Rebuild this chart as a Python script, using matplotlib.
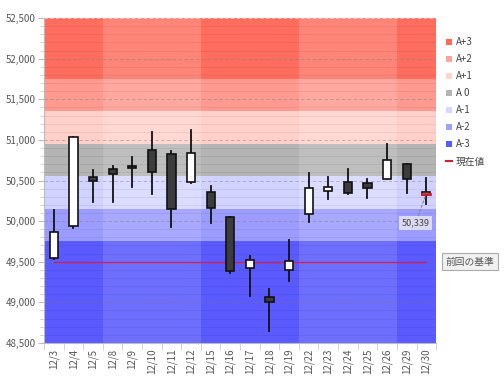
import numpy as np
import matplotlib
matplotlib.use('Agg')
import matplotlib.pyplot as plt
from matplotlib.patches import Rectangle, Patch
from matplotlib.lines import Line2D
from matplotlib.ticker import MultipleLocator, FuncFormatter

plt.rcParams['font.family'] = ['Noto Sans CJK JP', 'DejaVu Sans']

# data
dates = ['12/3', '12/4', '12/5', '12/8', '12/9', '12/10', '12/11', '12/12',
         '12/15', '12/16', '12/17', '12/18', '12/19', '12/22', '12/23',
         '12/24', '12/25', '12/26', '12/29', '12/30']
opens = [49550, 49940, 50540, 50645, 50680, 50875, 50825, 50480, 50360, 50055,
         49420, 49060, 49395, 50085, 50370, 50480, 50465, 50520, 50700, 50320]
highs = [50140, 51030, 50630, 50680, 50790, 51100, 50865, 51120, 50430, 50055,
         49570, 49165, 49770, 50590, 50540, 50640, 50515, 50945, 50700, 50530]
lows = [49530, 49920, 50230, 50230, 50420, 50330, 49930, 50465, 49975, 49360,
        49080, 48650, 49265, 49990, 50270, 50330, 50285, 50520, 50350, 50210]
closes = [49870, 51030, 50490, 50575, 50660, 50600, 50145, 50840, 50165, 49380,
          49520, 49010, 49515, 50410, 50415, 50340, 50405, 50750, 50520, 50360]
current = 50339
base_line = 49500

band_names = ['A+3', 'A+2', 'A+1', 'A 0', 'A-1', 'A-2', 'A-3']
band_edges = [52500, 51750, 51350, 50950, 50550, 50150, 49750, 48500]
band_light = ['#ff8578', '#ffa8a0', '#ffd8d4', '#bebebe', '#dcdcff', '#a8a8ff', '#6e6eff']
band_dark = ['#ff6d5f', '#ff9a90', '#ffd0ca', '#b4b4b4', '#d2d2ff', '#9c9cff', '#5a5aff']
legend_colors = ['#ff6a5a', '#ffa59a', '#ffd5d0', '#b4b4b4', '#d8d8ff', '#a0a0ff', '#5a5aff']
# weeks: (first index, last index)
weeks = [(0, 2), (3, 7), (8, 12), (13, 17), (18, 19)]

fig = plt.figure(figsize=(5.04, 3.80), dpi=100)
ax = fig.add_axes([0.0873, 0.0974, 0.778, 0.8552])
n = len(dates)
x = np.arange(n)
ax.set_xlim(-0.5, n - 0.5)
ax.set_ylim(48500, 52500)

# bands, darker on alternate weeks
for wi, (a, b) in enumerate(weeks):
    cols = band_dark if wi % 2 == 0 else band_light
    for i in range(len(band_names)):
        ax.add_patch(Rectangle((a - 0.5, band_edges[i + 1]), b - a + 1,
                               band_edges[i] - band_edges[i + 1],
                               facecolor=cols[i], edgecolor='none', zorder=0))

# grid
for v in np.arange(48600, 52500, 100):
    if v % 500 == 0:
        ax.axhline(v, color='#777777', lw=0.6, ls=(0, (4, 3)), alpha=0.5, zorder=1)
    else:
        ax.axhline(v, color='#000000', lw=0.5, alpha=0.09, zorder=1)
ax.axhline(52500, color='#ffffff', lw=0.6, ls=(0, (4, 3)), alpha=0.6, zorder=1)

# reference line
ax.plot([x[0], x[-1]], [base_line, base_line], color='#d0204a', lw=0.9, zorder=2)

# candles
w = 0.42
for i in range(n):
    o, h, l, c = opens[i], highs[i], lows[i], closes[i]
    ax.plot([x[i], x[i]], [l, h], color='#111111', lw=1.3, zorder=3)
    up = c >= o
    lo, hi = min(o, c), max(o, c)
    ax.add_patch(Rectangle((x[i] - w / 2, lo), w, max(hi - lo, 15),
                           facecolor='#ffffff' if up else '#3c3c3c',
                           edgecolor='#111111', lw=1.2, zorder=4))

# current value marker
ax.plot([x[-1] - w / 2, x[-1] + w / 2], [current, current], color='#d02030', lw=2, zorder=5)
ax.annotate(f'{current:,}', xy=(x[-1], current), xytext=(x[-1] - 0.55, current - 360),
            fontsize=6.5, color='#444444', ha='center', va='center',
            bbox=dict(boxstyle='square,pad=0.3', fc='#e6e6f0', ec='none', alpha=0.85),
            arrowprops=dict(arrowstyle='-', color='#888888', ls=(0, (2, 2)), lw=0.8,
                            shrinkA=0, shrinkB=2), zorder=6)

ax.annotate('前回の基準', xy=(1.0, base_line), xycoords=('axes fraction', 'data'),
            xytext=(7, 0), textcoords='offset points', fontsize=7, color='#555555',
            ha='left', va='center',
            bbox=dict(boxstyle='square,pad=0.35', fc='#f0f0f0', ec='#aaaaaa', lw=0.8),
            annotation_clip=False)

# axes styling
ax.yaxis.set_major_locator(MultipleLocator(500))
ax.yaxis.set_minor_locator(MultipleLocator(100))
ax.yaxis.set_major_formatter(FuncFormatter(lambda v, p: f'{int(v):,}'))
ax.set_xticks(x)
ax.set_xticklabels(dates, rotation=90)
ax.set_xticks(np.arange(-0.5, n, 1), minor=True)
ax.tick_params(axis='y', which='major', labelsize=7, labelcolor='#555555',
               color='#bbbbbb', length=4, pad=2)
ax.tick_params(axis='y', which='minor', color='#cccccc', length=3)
ax.tick_params(axis='x', which='major', labelsize=7, labelcolor='#555555', length=0, pad=4)
ax.tick_params(axis='x', which='minor', color='#cccccc', length=5)
for s in ['top', 'right']:
    ax.spines[s].set_visible(False)
ax.spines['left'].set_color('#bbbbbb')
ax.spines['bottom'].set_color('#bbbbbb')

handles = [Patch(facecolor=c, edgecolor='none') for c in legend_colors]
handles.append(Line2D([0], [0], color='#d02030', lw=1.5))
ax.legend(handles, band_names + ['現在値'], loc='upper left', bbox_to_anchor=(1.015, 0.952),
          frameon=False, fontsize=7, handlelength=0.6, handleheight=0.6,
          handletextpad=0.4, labelspacing=0.72, labelcolor='#444444', borderaxespad=0)

fig.savefig('out.png', dpi=100)
